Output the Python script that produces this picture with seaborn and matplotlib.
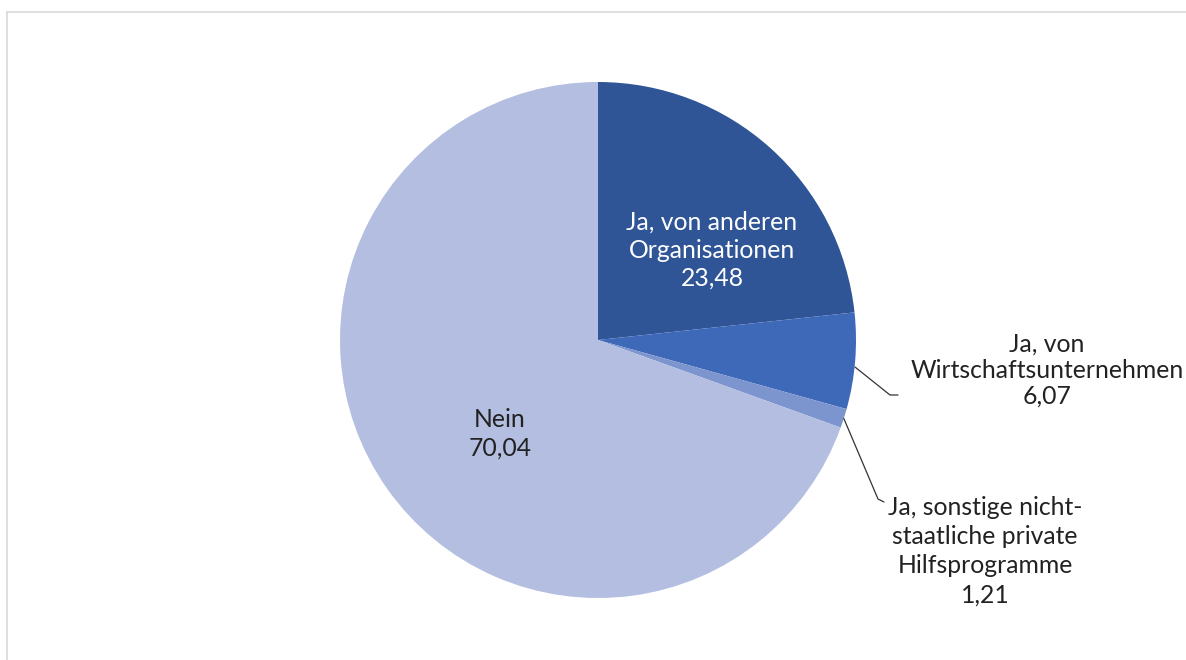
import matplotlib
matplotlib.use("Agg")
import matplotlib.pyplot as plt
import seaborn as sns
import numpy as np

# data
labels = ["Ja, von anderen\nOrganisationen", "Ja, von\nWirtschaftsunternehmen",
          "Ja, sonstige nicht-\nstaatliche private\nHilfsprogramme", "Nein"]
values = [23.48, 6.07, 1.21, 70.04]
colors = ["#2F5597", "#3E68B8", "#7D95CF", "#B3BEE0"]

sns.set_theme(style="white")
plt.rcParams['font.family'] = ['Lato', 'DejaVu Sans']

W, H = 1186, 660
fig = plt.figure(figsize=(W / 100, H / 100), dpi=100)
ax = fig.add_axes([0, 0, 1, 1])

cx, cy, r = 598, H - 340, 258
wedges, _ = ax.pie(values, colors=colors, startangle=90, counterclock=False,
                   center=(cx, cy), radius=r,
                   wedgeprops=dict(linewidth=0))
ax.set_xlim(0, W)
ax.set_ylim(0, H)
ax.set_aspect('equal')
ax.axis('off')

def fmt(v):
    return f"{v:.2f}".replace(".", ",")

fs = 17.8
# label positions (pixel coords, y from top)
pos = [(712, 250), (1047, 370), (985, 551), (500, 434)]
spacing = [1.27, 1.17, 1.32, 1.3]
tcol = ["white", "#222222", "#222222", "#222222"]
for lab, v, (x, y), c, ls in zip(labels, values, pos, tcol, spacing):
    ax.text(x, H - y, f"{lab}\n{fmt(v)}", ha="center", va="center",
            fontsize=fs, color=c, linespacing=ls)

# leader lines from wedge edge to labels
def edge_point(w):
    th = np.deg2rad((w.theta1 + w.theta2) / 2)
    return cx + r * np.cos(th), cy + r * np.sin(th)

ex, ey = edge_point(wedges[1])
ax.plot([ex, 890, 898], [ey - 6, H - 395, H - 395], color="#333333", lw=0.9)
ex, ey = edge_point(wedges[2])
ax.plot([ex, 878, 884], [ey, H - 499, H - 502], color="#333333", lw=0.9)

# light frame like the reference
fig.add_artist(plt.Line2D([7 / W, 7 / W], [0, 1 - 12 / H], color="#D9D9D9", lw=1.2))
fig.add_artist(plt.Line2D([7 / W, 1], [1 - 12 / H, 1 - 12 / H], color="#D9D9D9", lw=1.2))

fig.savefig("out.png", dpi=100)
